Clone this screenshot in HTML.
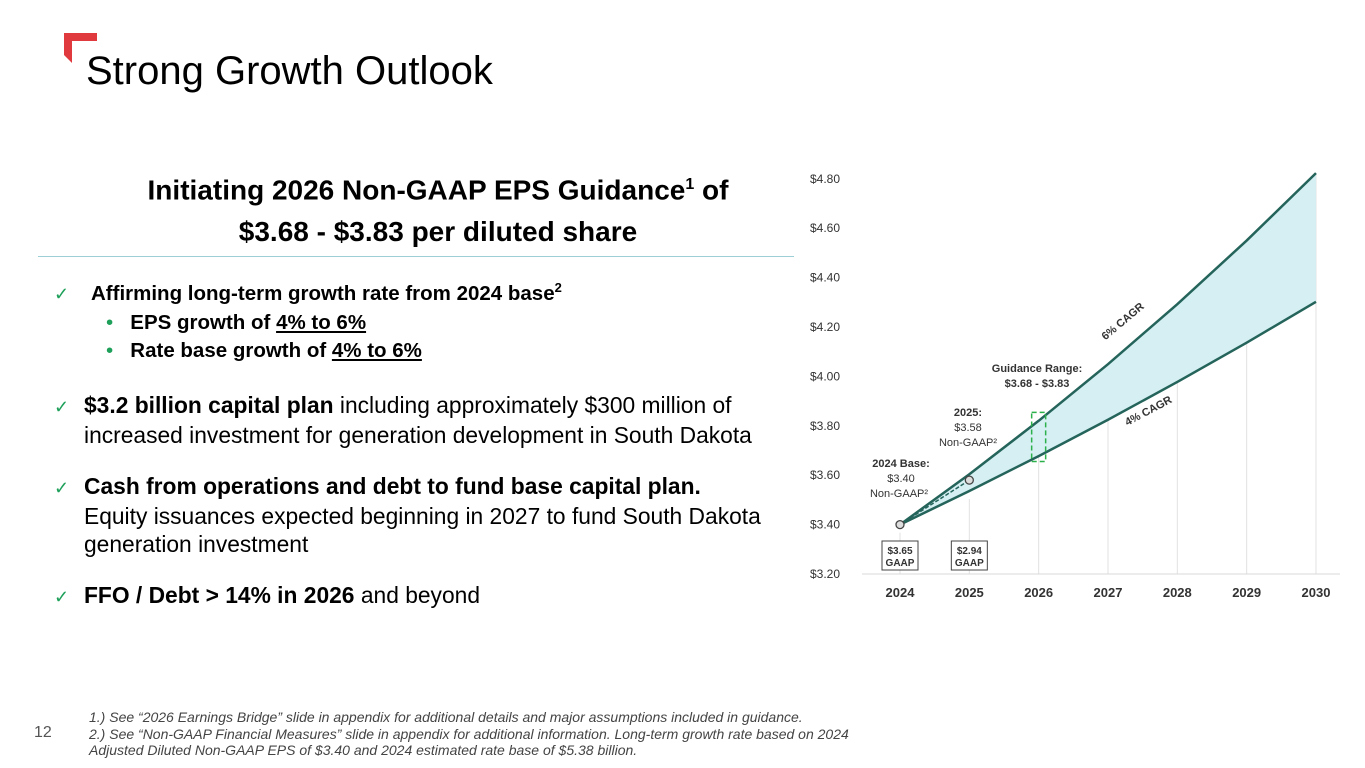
<!DOCTYPE html>
<html><head><meta charset="utf-8"><style>
body{margin:0;width:1365px;height:768px;background:#fff;font-family:"Liberation Sans",Arial,sans-serif;position:relative;overflow:hidden;color:#000}
.a{position:absolute;white-space:nowrap}
.chk{color:#1ea05a;font-size:18px;display:inline-block;width:30px}
.t{font-size:22.8px;line-height:28px}
b{font-weight:bold}
u{text-decoration:underline}
</style></head><body>
<svg class="a" style="left:64px;top:33px" width="36" height="32"><polygon points="0,0 33,0 33,8 8,8 8,30 0,22" fill="#e03a3e"/></svg>
<div class="a" style="left:86px;top:49px;font-size:40px">Strong Growth Outlook</div>
<div class="a" style="left:38px;width:800px;top:164px;text-align:center;font-size:28px;font-weight:bold;line-height:42px;white-space:normal">Initiating 2026 Non-GAAP EPS Guidance<sup style="font-size:16px">1</sup> of<br>$3.68 - $3.83 per diluted share</div>
<div class="a" style="left:38px;top:256px;width:756px;height:1px;background:#9ccfd6"></div>
<div class="a t" style="left:54px;top:274px"><span class="chk" style="width:37px">✓</span><b style="font-size:20.5px">Affirming long-term growth rate from 2024 base<sup style="font-size:13px">2</sup></b></div>
<div class="a t" style="left:106px;top:309px;font-size:20.5px"><span style="color:#1ea05a">•</span>&nbsp;&nbsp; <b>EPS growth of <u>4% to 6%</u></b></div>
<div class="a t" style="left:106px;top:337px;font-size:20.5px"><span style="color:#1ea05a">•</span>&nbsp;&nbsp; <b>Rate base growth of <u>4% to 6%</u></b></div>
<div class="a t" style="left:54px;top:391px"><span class="chk">✓</span><b>$3.2 billion capital plan</b> including approximately $300 million of<br><span style="padding-left:30px">increased investment for generation development in South Dakota</span></div>
<div class="a t" style="left:54px;top:472px"><span class="chk">✓</span><b>Cash from operations and debt to fund base capital plan.</b><br><span style="padding-left:30px">Equity issuances expected beginning in 2027 to fund South Dakota</span><br><span style="padding-left:30px">generation investment</span></div>
<div class="a t" style="left:54px;top:581px"><span class="chk">✓</span><b>FFO / Debt &gt; 14% in 2026</b> and beyond</div>
<div class="a" style="left:34px;top:724px;font-size:16px;color:#555">12</div>
<div class="a" style="left:89px;top:709px;font-size:14px;font-style:italic;color:#444;line-height:16.5px">1.) See “2026 Earnings Bridge” slide in appendix for additional details and major assumptions included in guidance.<br>2.) See “Non-GAAP Financial Measures” slide in appendix for additional information. Long-term growth rate based on 2024<br>Adjusted Diluted Non-GAAP EPS of $3.40 and 2024 estimated rate base of $5.38 billion.</div>
<svg class="a" id="chart" style="left:0;top:0" width="1365" height="768"></svg>
<script>
const years=[2024,2025,2026,2027,2028,2029,2030];
const yTicks=[3.2,3.4,3.6,3.8,4.0,4.2,4.4,4.6,4.8];
const base=[3.40];
const actual2025=[3.58];
const guidance=[3.68,3.83];
const highRate=[0.06];
const lowRate=[0.04];
const gaapLabels=["$3.65","$2.94"];
const NS="http://www.w3.org/2000/svg";
const svg=document.getElementById('chart');
const X=y=>900+(y-2024)*69.33;
const Y=v=>574-(v-3.2)/0.2*49.4;
function mk(t,a,p){const e=document.createElementNS(NS,t);for(const k in a)e.setAttribute(k,a[k]);(p||svg).appendChild(e);return e;}
const F='"Liberation Sans",Arial,sans-serif';
yTicks.forEach(v=>{const t=mk('text',{x:840,y:Y(v)+4,'text-anchor':'end','font-size':12,fill:'#333','font-family':F});t.textContent='$'+v.toFixed(2);

});
const hi=years.map(y=>base[0]*Math.pow(1+highRate[0],y-2024));
const lo=years.map(y=>base[0]*Math.pow(1+lowRate[0],y-2024));
years.forEach((y,i)=>{
 const g=mk('line',{x1:X(y),x2:X(y),y1:i<2?Y(lo[i])+8:Y(hi[i]),y2:574,stroke:'#e2e2e2','stroke-width':1});
 
 
 const t=mk('text',{x:X(y),y:597,'text-anchor':'middle','font-size':13,'font-weight':'bold',fill:'#333','font-family':F});t.textContent=y;
 
 
});
const ax=mk('line',{x1:862,x2:1340,y1:574,y2:574,stroke:'#d8d8d8'});


let pts=years.map((y,i)=>X(y)+','+Y(hi[i])).join(' ')+' '+years.slice().reverse().map((y,j)=>{const i=years.length-1-j;return X(y)+','+Y(lo[i]);}).join(' ');
const band=mk('polygon',{points:pts,fill:'#d5eff2'});


const l6=mk('polyline',{points:years.map((y,i)=>X(y)+','+Y(hi[i])).join(' '),fill:'none',stroke:'#24645a','stroke-width':2.5});


const l4=mk('polyline',{points:years.map((y,i)=>X(y)+','+Y(lo[i])).join(' '),fill:'none',stroke:'#24645a','stroke-width':2.5});


const d=mk('line',{x1:X(2024),y1:Y(base[0]),x2:X(2025),y2:Y(actual2025[0]),stroke:'#24645a','stroke-width':1.5,'stroke-dasharray':'4,2'});


const gb=mk('rect',{x:X(2026)-7,y:Y(guidance[1])-6,width:14,height:Y(guidance[0])-Y(guidance[1])+12,fill:'none',stroke:'#2bb04a','stroke-width':1.5,'stroke-dasharray':'5,3'});


[[2024,base[0]],[2025,actual2025[0]]].forEach(p=>{const c=mk('circle',{cx:X(p[0]),cy:Y(p[1]),r:4,fill:'#ddd',stroke:'#444','stroke-width':1.3});

});
function txt(x,y,s,b,n,sz,anch){const t=mk('text',{x:x,y:y,'text-anchor':anch||'middle','font-size':sz||11,'font-weight':b?'bold':'normal',fill:'#333','font-family':F});t.textContent=s;

return t;}
txt(901,467,'2024 Base:',1,'base-label');txt(901,482,'$'+base[0].toFixed(2),0,'base-value');txt(899,497,'Non-GAAP²',0,'base-note');
txt(968,416,'2025:',1,'y2025-label');txt(968,431,'$'+actual2025[0].toFixed(2),0,'y2025-value');txt(968,446,'Non-GAAP²',0,'y2025-note');
txt(1037,372,'Guidance Range:',1,'guidance-label');txt(1037,387,'$'+guidance[0].toFixed(2)+' - $'+guidance[1].toFixed(2),1,'guidance-value');
gaapLabels.forEach((s,i)=>{const x=X(years[i]);const r=mk('rect',{x:x-18,y:541,width:36,height:29,fill:'#fff',stroke:'#444'});


txt(x,554,s,1,'gaap-value',10);txt(x,566,'GAAP',1,'gaap-label',10);});
const a=txt(0,0,'6% CAGR',1,'label-6pct-cagr',11);a.setAttribute('transform','translate(1125,324) rotate(-40)');
const b=txt(0,0,'4% CAGR',1,'label-4pct-cagr',11);b.setAttribute('transform','translate(1150,414) rotate(-28)');
</script>
</body></html>
